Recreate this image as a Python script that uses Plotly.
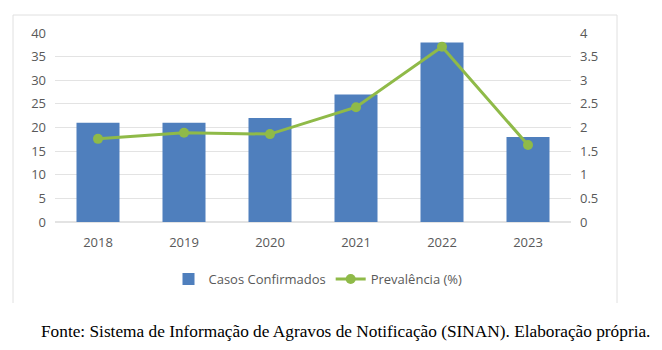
import plotly.graph_objects as go

years = ["2018", "2019", "2020", "2021", "2022", "2023"]
casos = [21, 21, 22, 27, 38, 18]
prevalencia = [1.76, 1.89, 1.86, 2.43, 3.71, 1.63]

L, R, T, B = 55, 571, 33, 222
W, H = 662, 350
pw, ph = R - L, B - T

def px(x):
    return (x - L) / pw

def py(y):
    return (B - y) / ph

fig = go.Figure()
fig.add_trace(go.Bar(x=years, y=casos, name="Casos Confirmados",
                     marker=dict(color="#4f7fbd", line=dict(width=0)), width=0.5))
fig.add_trace(go.Scatter(x=years, y=prevalencia, name="Prevalência (%)", yaxis="y2",
                         mode="lines+markers",
                         line=dict(color="#8fba48", width=3),
                         marker=dict(color="#8fba48", size=10)))

tickfont = dict(family="Open Sans, Lato, sans-serif", size=13, color="#595959")
fig.update_layout(
    width=W, height=H,
    margin=dict(l=L, r=W - R, t=T, b=H - B),
    paper_bgcolor="white", plot_bgcolor="white",
    bargap=0.5,
    xaxis=dict(tickfont=tickfont, showline=False, ticks="", showgrid=False,
               ticklabelstandoff=11),
    yaxis=dict(range=[0, 40], dtick=5, tickfont=tickfont, showgrid=True,
               gridcolor="#e3e3e3", gridwidth=1, zeroline=True, zerolinecolor="#e3e3e3",
               ticklabelstandoff=8),
    yaxis2=dict(range=[0, 4], dtick=0.5, overlaying="y", side="right",
                tickfont=tickfont, showgrid=False, zeroline=False, ticklabelstandoff=8),
    legend=dict(orientation="h", x=px(318), xanchor="center", y=py(279), yanchor="middle",
                font=dict(family="Open Sans, Lato, sans-serif", size=13, color="#595959"),
                itemwidth=30, traceorder="normal"),
    showlegend=True,
    shapes=[
        dict(type="line", xref="paper", yref="paper", x0=px(13), x1=px(617), y0=py(15), y1=py(15),
             line=dict(color="#e0e0e0", width=1)),
        dict(type="line", xref="paper", yref="paper", x0=px(13), x1=px(13), y0=py(15), y1=py(303),
             line=dict(color="#e0e0e0", width=1)),
        dict(type="line", xref="paper", yref="paper", x0=px(617), x1=px(617), y0=py(15), y1=py(303),
             line=dict(color="#e0e0e0", width=1)),
    ],
    annotations=[
        dict(text="Fonte: Sistema de Informação de Agravos de Notificação (SINAN). Elaboração própria.",
             xref="paper", yref="paper", x=px(345), y=py(331), xanchor="center", yanchor="middle",
             showarrow=False,
             font=dict(family="Liberation Serif, Times New Roman, serif", size=17.3, color="black")),
    ],
)

fig.write_html("out.html")
